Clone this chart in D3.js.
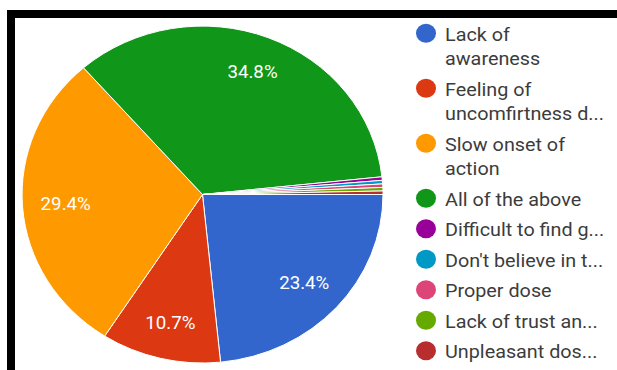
<!DOCTYPE html>
<html>
<head>
<meta charset="utf-8">
<script src="https://cdn.jsdelivr.net/npm/d3@7"></script>
<style>
  html, body { margin: 0; padding: 0; background: #fff; }
  svg { display: block; }
</style>
</head>
<body>
<svg id="chart" width="617" height="370"></svg>
<script>
// Survey responses: reasons given
const categories = [
  "Lack of awareness",
  "Feeling of uncomfirtness d...",
  "Slow onset of action",
  "All of the above",
  "Difficult to find g...",
  "Don't believe in t...",
  "Proper dose",
  "Lack of trust an...",
  "Unpleasant dos..."
];
// legend lines (wrapped as displayed)
const legendLines = [
  ["Lack of", "awareness"],
  ["Feeling of", "uncomfirtness d..."],
  ["Slow onset of", "action"],
  ["All of the above"],
  ["Difficult to find g..."],
  ["Don't believe in t..."],
  ["Proper dose"],
  ["Lack of trust an..."],
  ["Unpleasant dos..."]
];
const counts = [70, 32, 88, 104, 1, 1, 1, 1, 1];
const colors = ["#3366cc", "#dc3912", "#ff9900", "#109618", "#990099",
                "#0099c6", "#dd4477", "#66aa00", "#b82e2e"];

const svg = d3.select("#chart");
const stretch = 1.07; // whole chart is drawn slightly wider than tall

// frame strips
svg.append("rect").attr("x", 7).attr("y", 10).attr("width", 610).attr("height", 8).attr("fill", "#000");
svg.append("rect").attr("x", 7).attr("y", 10).attr("width", 8).attr("height", 360).attr("fill", "#000");

const cx = 202.5, cy = 194.5, rx = 180.5, ry = 168.5;
const total = d3.sum(counts);

const pie = d3.pie().sort(null).value(d => d)
  .startAngle(Math.PI / 2).endAngle(Math.PI / 2 + 2 * Math.PI);
const arcs = pie(counts);
const arc = d3.arc().innerRadius(0).outerRadius(1);

const g = svg.append("g").attr("transform", `translate(${cx},${cy}) scale(${rx},${ry})`);
g.selectAll("path").data(arcs).join("path")
  .attr("d", arc)
  .attr("fill", (d, i) => colors[i])
  .attr("stroke", "#fff")
  .attr("stroke-width", 1)
  .attr("vector-effect", "non-scaling-stroke");

// percentage labels for large slices
const fmt = d3.format(".1f");
svg.append("g").selectAll("text")
  .data(arcs.filter(d => d.value / total > 0.05))
  .join("text")
  .attr("transform", d => {
    const a = (d.startAngle + d.endAngle) / 2;
    const x = cx + Math.sin(a) * rx * 0.76;
    const y = cy - Math.cos(a) * ry * 0.78;
    return `translate(${x},${y}) scale(${stretch},1)`;
  })
  .attr("text-anchor", "middle")
  .attr("dominant-baseline", "central")
  .attr("fill", "#fff")
  .attr("font-family", "Roboto, Arial, sans-serif")
  .attr("font-size", 17.5)
  .text(d => fmt(d.value / total * 100) + "%");

// legend
const legend = svg.append("g").attr("font-family", "Roboto, Arial, sans-serif");
let y = 40.7;
legendLines.forEach((lines, i) => {
  legend.append("ellipse")
    .attr("cx", 426).attr("cy", y - 7.4)
    .attr("rx", 10).attr("ry", 9.5)
    .attr("fill", colors[i]);
  lines.forEach((t, j) => {
    legend.append("text")
      .attr("transform", `translate(445,${y + j * 24.3}) scale(${stretch},1)`)
      .attr("font-size", 18.5)
      .attr("fill", "#3c3c3c")
      .text(t);
  });
  y += 30.5 + (lines.length - 1) * 24.5;
});
</script>
</body>
</html>
